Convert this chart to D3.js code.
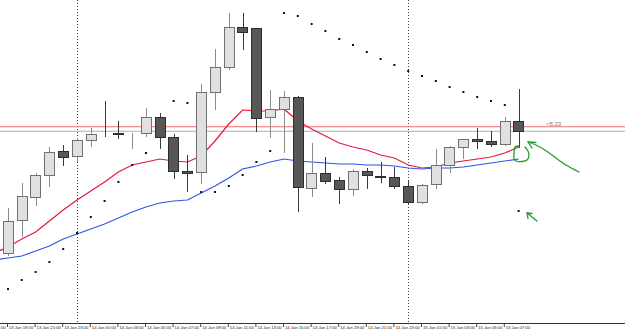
<!DOCTYPE html>
<html>
<head>
<meta charset="utf-8">
<script src="https://cdn.jsdelivr.net/npm/d3@7"></script>
<style>
    body { margin: 0; background: #fff; }
    svg { display: block; }
</style>
</head>
<body>
<svg id="canvas" width="625" height="332"></svg>
<script>
// Define and Initialise Variables
// hourly bars, 13 Jan 18:00 .. 15 Jan 08:00 (the 18:00 bar is off screen, only the averages use it)
let times = [
    '2014-01-13T18:00Z', '2014-01-13T19:00Z', '2014-01-13T20:00Z', '2014-01-13T21:00Z', '2014-01-13T22:00Z', '2014-01-13T23:00Z',
    '2014-01-14T00:00Z', '2014-01-14T01:00Z', '2014-01-14T02:00Z', '2014-01-14T03:00Z', '2014-01-14T04:00Z', '2014-01-14T05:00Z',
    '2014-01-14T06:00Z', '2014-01-14T07:00Z', '2014-01-14T08:00Z', '2014-01-14T09:00Z', '2014-01-14T10:00Z', '2014-01-14T11:00Z',
    '2014-01-14T12:00Z', '2014-01-14T13:00Z', '2014-01-14T14:00Z', '2014-01-14T15:00Z', '2014-01-14T16:00Z', '2014-01-14T17:00Z',
    '2014-01-14T18:00Z', '2014-01-14T19:00Z', '2014-01-14T20:00Z', '2014-01-14T21:00Z', '2014-01-14T22:00Z', '2014-01-14T23:00Z',
    '2014-01-15T00:00Z', '2014-01-15T01:00Z', '2014-01-15T02:00Z', '2014-01-15T03:00Z', '2014-01-15T04:00Z', '2014-01-15T05:00Z',
    '2014-01-15T06:00Z', '2014-01-15T07:00Z', '2014-01-15T08:00Z'
];

let opens = [null,
    1.37718, 1.37850, 1.37942, 1.38030, 1.38126, 1.38106, 1.38170, 1.38194, 1.38196, 1.38196,
    1.38198, 1.38262, 1.38182, 1.38046, 1.38042, 1.38362, 1.38462, 1.38622, 1.38618, 1.38262,
    1.38294, 1.38342, 1.37978, 1.38038, 1.38010, 1.37974, 1.38046, 1.38026, 1.38022, 1.37986,
    1.37922, 1.37994, 1.38070, 1.38142, 1.38174, 1.38166, 1.38154, 1.38246];
let highs = [null,
    1.37898, 1.37998, 1.38038, 1.38142, 1.38150, 1.38178, 1.38218, 1.38326, 1.38246, 1.38198,
    1.38298, 1.38278, 1.38194, 1.38110, 1.38394, 1.38534, 1.38678, 1.38678, 1.38618, 1.38370,
    1.38366, 1.38346, 1.38158, 1.38102, 1.38022, 1.38054, 1.38058, 1.38082, 1.38062, 1.38010,
    1.37994, 1.38134, 1.38146, 1.38174, 1.38218, 1.38206, 1.38262, 1.38374];
let lows = [null,
    1.37706, 1.37782, 1.37906, 1.37982, 1.38066, 1.38082, 1.38142, 1.38182, 1.38174, 1.38134,
    1.38182, 1.38134, 1.38014, 1.37962, 1.37994, 1.38290, 1.38450, 1.38530, 1.38202, 1.38178,
    1.38118, 1.37882, 1.37942, 1.37994, 1.37914, 1.37946, 1.37974, 1.37998, 1.37974, 1.37910,
    1.37914, 1.37974, 1.38038, 1.38094, 1.38134, 1.38142, 1.38146, 1.38138];
let closes = [null,
    1.37846, 1.37946, 1.38030, 1.38122, 1.38102, 1.38170, 1.38194, 1.38192, 1.38194, 1.38196,
    1.38262, 1.38182, 1.38046, 1.38038, 1.38362, 1.38462, 1.38622, 1.38602, 1.38258, 1.38294,
    1.38342, 1.37982, 1.38038, 1.38006, 1.37974, 1.38046, 1.38030, 1.38024, 1.37986, 1.37922,
    1.37990, 1.38070, 1.38142, 1.38174, 1.38166, 1.38154, 1.38246, 1.38206];

// fast (red) and slow (blue) moving averages
let maFast = [
    1.37718, 1.37742, 1.37774, 1.37802, 1.37846, 1.37890, 1.37930, 1.37966, 1.38002, 1.38042,
    1.38070, 1.38082, 1.38094, 1.38086, 1.38082, 1.38106, 1.38166, 1.38234, 1.38290, 1.38286,
    1.38286, 1.38294, 1.38246, 1.38214, 1.38186, 1.38158, 1.38142, 1.38130, 1.38110, 1.38098,
    1.38070, 1.38058, 1.38062, 1.38078, 1.38086, 1.38094, 1.38102, 1.38118, 1.38142];
let maSlow = [
    1.37690, 1.37698, 1.37706, 1.37726, 1.37746, 1.37774, 1.37794, 1.37814, 1.37834, 1.37858,
    1.37882, 1.37902, 1.37918, 1.37926, 1.37930, 1.37958, 1.37986, 1.38018, 1.38054, 1.38066,
    1.38082, 1.38094, 1.38086, 1.38082, 1.38078, 1.38074, 1.38074, 1.38070, 1.38070, 1.38066,
    1.38058, 1.38054, 1.38058, 1.38058, 1.38062, 1.38070, 1.38078, 1.38086, 1.38094];

// parabolic SAR
let sar = [null,
    1.37574, 1.37610, 1.37642, 1.37682, 1.37734, 1.37798, 1.37862, 1.37926, 1.38002, 1.38070,
    1.38118, null, 1.38326, 1.38318, 1.37962, 1.37962, 1.37986, 1.38030, 1.38082, 1.38126,
    1.38678, 1.38666, 1.38634, 1.38606, 1.38574, 1.38550, 1.38522, 1.38494, 1.38470, 1.38446,
    1.38426, 1.38406, 1.38382, 1.38362, 1.38342, 1.38326, 1.38310, 1.37886];

// horizontal levels
let levelRed = 1.38223;
let levelGrey = 1.38205;
let levelLabel = '<8.23';

// time labels every two hours, day separators
let tickTimes = [
    '2014-01-13T17:00Z', '2014-01-13T19:00Z', '2014-01-13T21:00Z', '2014-01-13T23:00Z',
    '2014-01-14T01:00Z', '2014-01-14T03:00Z', '2014-01-14T05:00Z', '2014-01-14T07:00Z',
    '2014-01-14T09:00Z', '2014-01-14T11:00Z', '2014-01-14T13:00Z', '2014-01-14T15:00Z',
    '2014-01-14T17:00Z', '2014-01-14T19:00Z', '2014-01-14T21:00Z', '2014-01-14T23:00Z',
    '2014-01-15T01:00Z', '2014-01-15T03:00Z', '2014-01-15T05:00Z', '2014-01-15T07:00Z'
];
let daySeparators = ['2014-01-14T00:00Z', '2014-01-15T00:00Z'];

// green hand drawn marks, [hours after 14 Jan 00:00, price]
let inkLoop = [[32.03, 1.38146], [31.74, 1.38142], [31.67, 1.38118], [31.67, 1.38094], [31.81, 1.38086],
    [32.25, 1.38084], [32.61, 1.38090], [32.75, 1.38106], [32.68, 1.38126], [32.46, 1.38142]];
let inkArrow1 = [[36.38, 1.38042], [35.43, 1.38070], [34.71, 1.38098], [33.91, 1.38130], [33.26, 1.38150], [32.68, 1.38162]];
let inkHead1 = [[33.26, 1.38160], [32.68, 1.38162], [32.97, 1.38138]];
let inkArrow2 = [[33.33, 1.37846], [32.61, 1.37878]];
let inkHead2 = [[32.97, 1.37876], [32.61, 1.37878], [32.68, 1.37856]];

let canvas = d3.select('#canvas');
let width = 625;
let axisY = 323;

let parse = (s) => new Date(s);
let bars = times.map((t, i) => ({
    time: parse(t), open: opens[i], high: highs[i], low: lows[i], close: closes[i],
    fast: maFast[i], slow: maSlow[i], sar: sar[i]
}));

// Scales
let xScale = d3.scaleTime()
    .domain([parse('2014-01-13T19:00Z'), parse('2014-01-15T08:00Z')])
    .range([8, 518.6]);
let yScale = d3.scaleLinear()
    .domain([1.37426, 1.38730])
    .range([326, 0]);

let step = xScale(parse('2014-01-14T01:00Z')) - xScale(parse('2014-01-14T00:00Z'));
let bodyWidth = step * 0.755;
let dayZero = parse('2014-01-14T00:00Z').getTime();
let inkPoint = (d) => [xScale(new Date(dayZero + d[0] * 3600000)), yScale(d[1])];

// Day separators
canvas.selectAll('line.sep')
    .data(daySeparators)
    .enter()
    .append('line')
    .attr('class', 'sep')
    .attr('x1', (d) => Math.round(xScale(parse(d))) + 0.5)
    .attr('x2', (d) => Math.round(xScale(parse(d))) + 0.5)
    .attr('y1', 0)
    .attr('y2', axisY)
    .attr('stroke', '#444')
    .attr('stroke-dasharray', '1,2');

// Horizontal levels
canvas.append('line')
    .attr('x1', 0).attr('x2', width)
    .attr('y1', yScale(levelRed)).attr('y2', yScale(levelRed))
    .attr('stroke', '#f26a6a').attr('stroke-width', 1);
canvas.append('line')
    .attr('x1', 0).attr('x2', width)
    .attr('y1', yScale(levelGrey)).attr('y2', yScale(levelGrey))
    .attr('stroke', '#a9b0b0').attr('stroke-width', 1);
canvas.append('text')
    .attr('x', 546)
    .attr('y', yScale(levelRed) - 0.5)
    .attr('font-family', 'Liberation Sans, Arial, sans-serif')
    .attr('font-size', 6)
    .attr('fill', '#777')
    .text(levelLabel);

// Moving averages
let line = (key) => d3.line()
    .defined((d) => d[key] != null)
    .x((d) => xScale(d.time))
    .y((d) => yScale(d[key]));

canvas.append('path')
    .datum(bars)
    .attr('d', line('slow'))
    .attr('fill', 'none')
    .attr('stroke', '#2f56e6')
    .attr('stroke-width', 1.2);
canvas.append('path')
    .datum(bars)
    .attr('d', line('fast'))
    .attr('fill', 'none')
    .attr('stroke', '#e8173a')
    .attr('stroke-width', 1.2);

// Draw Candles
let candles = bars.filter((d) => d.open != null);
let bull = (d) => d.close >= d.open;

canvas.selectAll('line.wick')
    .data(candles)
    .enter()
    .append('line')
    .attr('class', 'wick')
    .attr('x1', (d) => Math.round(xScale(d.time)) + 0.5)
    .attr('x2', (d) => Math.round(xScale(d.time)) + 0.5)
    .attr('y1', (d) => yScale(d.high))
    .attr('y2', (d) => yScale(d.low))
    .attr('stroke', (d) => bull(d) ? '#8c8c8c' : '#3a3a3a')
    .attr('stroke-width', 1);

canvas.selectAll('rect.body')
    .data(candles)
    .enter()
    .append('rect')
    .attr('class', 'body')
    .attr('x', (d) => Math.round(xScale(d.time) - bodyWidth / 2) + 0.5)
    .attr('y', (d) => Math.round(yScale(Math.max(d.open, d.close))) + 0.5)
    .attr('width', Math.round(bodyWidth))
    .attr('height', (d) => Math.max(0, Math.round(Math.abs(yScale(d.open) - yScale(d.close)))))
    .attr('fill', (d) => bull(d) ? '#e0e0e0' : '#575757')
    .attr('stroke', (d) => bull(d) ? '#707070' : '#2e2e2e')
    .attr('stroke-width', 1);

// Parabolic SAR dots
canvas.selectAll('rect.sar')
    .data(bars.filter((d) => d.sar != null))
    .enter()
    .append('rect')
    .attr('class', 'sar')
    .attr('x', (d) => xScale(d.time) - 1)
    .attr('y', (d) => yScale(d.sar) - 1)
    .attr('width', 2)
    .attr('height', 2)
    .attr('fill', '#111');

// Time axis
let xAxis = d3.axisBottom(xScale)
    .tickValues(tickTimes.map(parse))
    .tickFormat(d3.utcFormat('%d Jan %H:%M'))
    .tickSize(4)
    .tickSizeOuter(0);

let axisG = canvas.append('g')
    .attr('transform', 'translate(0,' + axisY + ')')
    .call(xAxis);
axisG.select('.domain')
    .attr('d', 'M0,0.5H' + width)
    .attr('stroke', '#333');
axisG.selectAll('.tick line')
    .attr('stroke', '#444')
    .attr('transform', 'translate(-1,0)');
axisG.selectAll('.tick text')
    .attr('text-anchor', 'start')
    .attr('x', 0.5)
    .attr('y', 2)
    .attr('dy', '0.9em')
    .attr('font-family', 'Liberation Sans, Arial, sans-serif')
    .attr('font-size', 4.2)
    .attr('fill', '#222');

// Green hand drawn notes
let ink = d3.line().curve(d3.curveCatmullRom);
let inkPaths = [inkLoop, inkArrow1, inkArrow2];
let inkHeads = [inkHead1, inkHead2];
inkPaths.forEach((pts) => {
    canvas.append('path')
        .attr('d', ink(pts.map(inkPoint)))
        .attr('fill', 'none')
        .attr('stroke', '#1f9e2c')
        .attr('stroke-width', 1.3)
        .attr('stroke-linecap', 'round');
});
inkHeads.forEach((pts) => {
    canvas.append('path')
        .attr('d', d3.line()(pts.map(inkPoint)))
        .attr('fill', 'none')
        .attr('stroke', '#1f9e2c')
        .attr('stroke-width', 1.3)
        .attr('stroke-linecap', 'round')
        .attr('stroke-linejoin', 'round');
});
</script>
</body>
</html>
